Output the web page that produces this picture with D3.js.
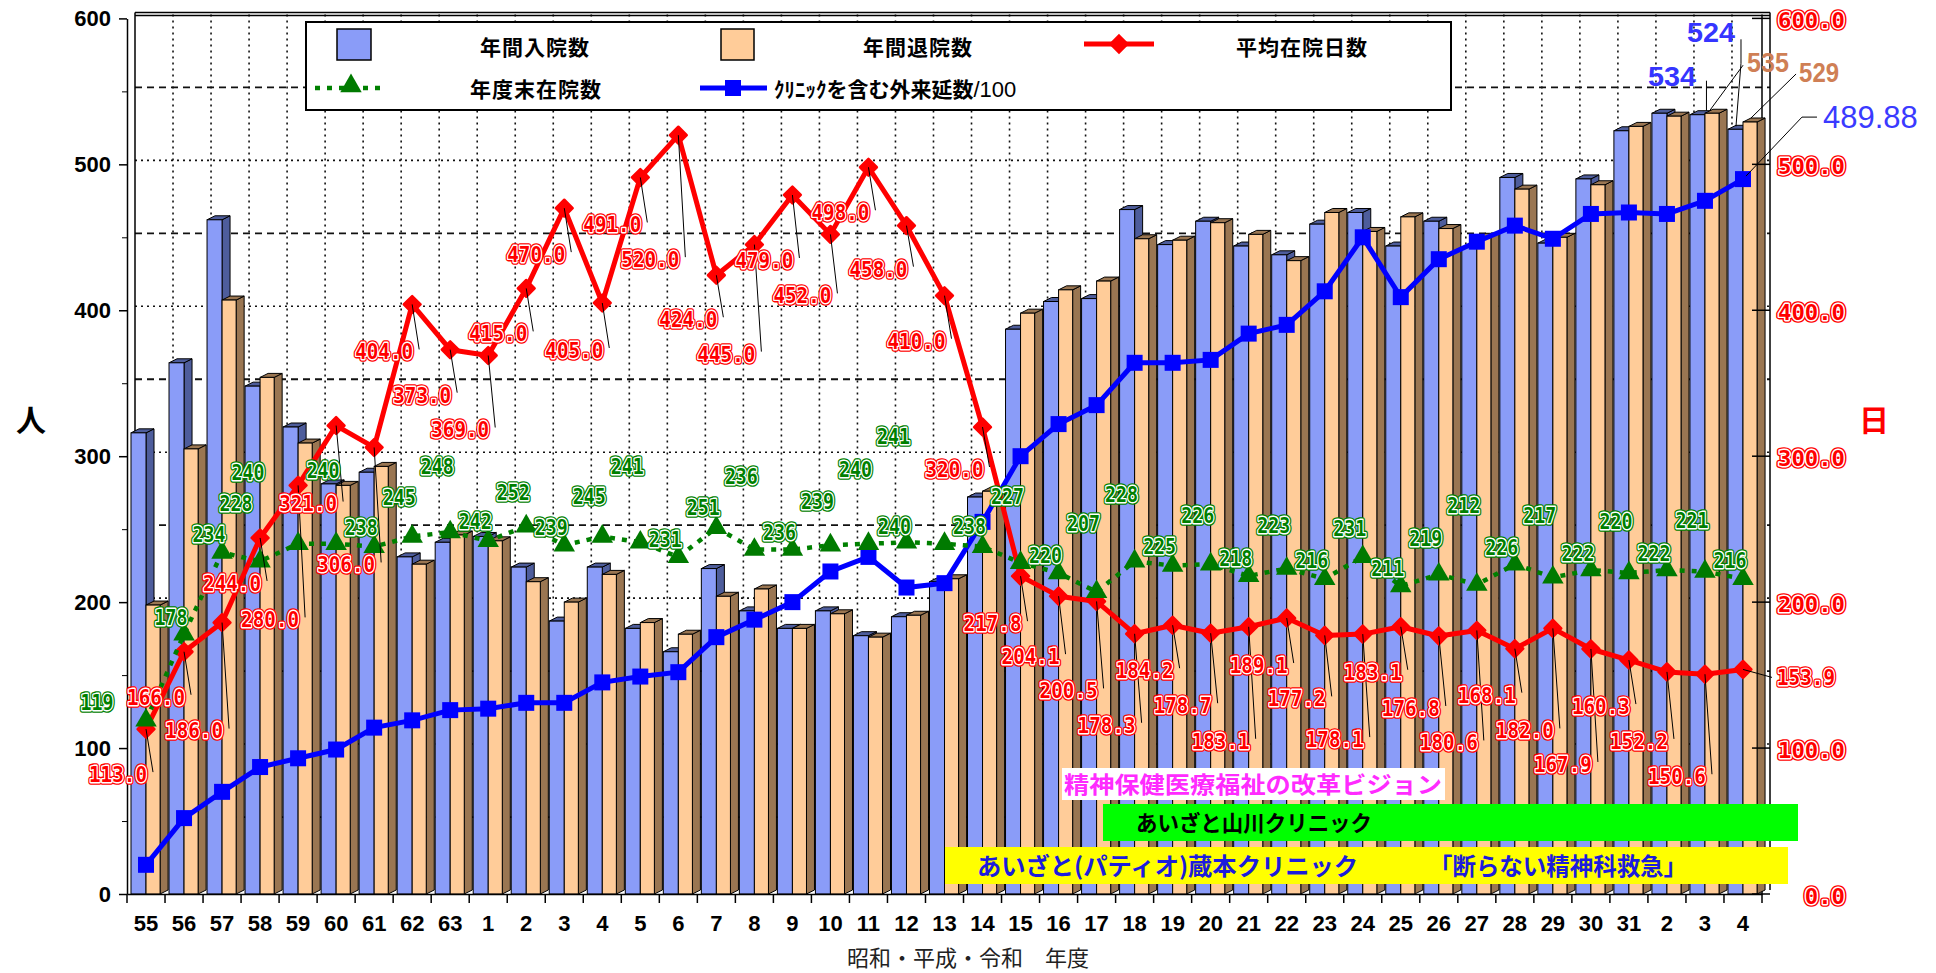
<!DOCTYPE html>
<html lang="ja">
<head>
<meta charset="utf-8">
<title>年間入院数・退院数・平均在院日数の推移</title>
<script src="https://cdn.jsdelivr.net/npm/d3@7"></script>
<style>
  html, body { margin: 0; padding: 0; background: #fff; }
  svg { display: block; }
</style>
</head>
<body>
<script>
// 年度（昭和55年度〜令和4年度）
const years = ["S55","S56","S57","S58","S59","S60","S61","S62","S63",
  "H1","H2","H3","H4","H5","H6","H7","H8","H9","H10",
  "H11","H12","H13","H14","H15","H16","H17","H18","H19","H20",
  "H21","H22","H23","H24","H25","H26","H27","H28","H29","H30",
  "H31","R2","R3","R4"];
const yearLabels = ["55","56","57","58","59","60","61","62","63",
  "1","2","3","4","5","6","7","8","9","10",
  "11","12","13","14","15","16","17","18","19","20",
  "21","22","23","24","25","26","27","28","29","30",
  "31","2","3","4"];

// 年間入院数
const admissions = [316,364,462,348,320,281,289,231,241,
  245,224,187,224,182,166,223,194,182,194,
  177,190,214,272,387,406,408,469,445,461,
  444,438,459,467,444,461,443,491,446,490,
  523,535,534,524];
// 年間退院数
const discharges = [198,305,407,354,309,280,293,226,246,
  242,214,200,219,186,178,204,209,182,192,
  176,191,216,276,398,414,420,449,448,460,
  452,434,467,454,464,456,450,483,450,486,
  526,533,535,529];
// 平均在院日数（右軸）
const avgStay = [113.0,166.0,186.0,244.0,280.0,321.0,306.0,404.0,373.0,
  369.0,415.0,470.0,405.0,491.0,520.0,424.0,445.0,479.0,452.0,
  498.0,458.0,410.0,320.0,217.8,204.1,200.5,178.3,184.2,178.7,
  183.1,189.1,177.2,178.1,183.1,176.8,180.6,168.1,182.0,167.9,
  160.3,152.2,150.6,153.9];
// 年度末在院数
const inpatientsEnd = [119,178,234,228,240,240,238,245,248,
  242,252,239,245,241,231,251,236,236,239,
  240,241,240,238,227,220,207,228,225,226,
  218,223,216,231,211,219,212,226,217,222,
  220,222,221,216];
// クリニックを含む外来延数/100
const outpatients = [20,52,70,87,93,99,114,119,126,
  127,131,131,145,149,152,176,188,200,221,
  231,210,213,255,300,322,335,364,364,366,
  384,390,413,450,409,435,447,458,449,466,
  467,466,475,489.88];

const leftTicks = [0,100,200,300,400,500,600];
const rightTicks = [0,100,200,300,400,500,600];

// ラベルの配置（点からのずれ、px）
const redLabelDy = [45,45,108,45,134,78,117,47,45,
  74,45,46,47,47,124,44,109,65,61,
  45,43,45,42,47,60,89,91,45,72,
  114,47,63,105,45,72,112,46,102,115,
  46,69,102,8];
const greenLabelDy = [-18,-17,-18,-58,-71,-73,-19,-39,-66,
  -19,-34,-18,-40,-76,-17,-20,-73,-17,-44,
  -74,-106,-17,-20,-66,-18,-68,-67,-19,-49,
  -17,-43,-18,-28,-18,-36,-79,-17,-62,-17,
  -52,-17,-51,-18];
const greenLabelDx = {0: -49, 3: -24, 4: -50, 21: -50};

const W = 1936, H = 973;
const plot = {left: 127, right: 1762, top: 18.4, bottom: 894};
const depth = {x: 8, y: 4};
const monoFont = "'DejaVu Sans Mono', monospace";
const sansFont = "'Liberation Sans', Arial, sans-serif";
const jpFont = "'Noto Sans CJK JP', 'Noto Sans', sans-serif";

const svg = d3.select("body").append("svg")
    .attr("width", W)
    .attr("height", H);

// スケール
const x = d3.scaleBand().domain(years).range([plot.left, plot.right]);
const yL = d3.scaleLinear().domain([0, 600]).range([plot.bottom, plot.top]);
const yR = d3.scaleLinear().domain([0, 600]).range([plot.bottom, plot.top]);
const bw = x.bandwidth();
const cx = i => x(years[i]) + bw / 2;

// 奥の壁のグリッド線
const wall = svg.append("g").attr("stroke", "#111").attr("fill", "none");
d3.range(50, 600, 50).forEach(v => {
    wall.append("line")
        .attr("x1", plot.left + depth.x).attr("x2", plot.right + depth.x)
        .attr("y1", yL(v) - depth.y).attr("y2", yL(v) - depth.y)
        .attr("stroke-width", v % 100 === 0 ? 1.6 : 1.8)
        .attr("stroke-dasharray", v % 100 === 0 ? "2,4" : "7,5");
});
years.slice(1).forEach(yr => {
    wall.append("line")
        .attr("x1", x(yr) + depth.x).attr("x2", x(yr) + depth.x)
        .attr("y1", plot.top - depth.y).attr("y2", plot.bottom - depth.y)
        .attr("stroke-width", 1.6)
        .attr("stroke-dasharray", "2,4");
});

// 枠
const frame = svg.append("g").attr("stroke", "#000").attr("stroke-width", 1.5);
frame.append("line").attr("x1", plot.left + depth.x).attr("x2", plot.right + depth.x)
    .attr("y1", plot.top - depth.y - 2).attr("y2", plot.top - depth.y - 2);
frame.append("line").attr("x1", plot.left + depth.x).attr("x2", plot.right + depth.x)
    .attr("y1", plot.top - depth.y + 1).attr("y2", plot.top - depth.y + 1);
frame.append("line").attr("x1", plot.left + depth.x).attr("x2", plot.left + depth.x)
    .attr("y1", plot.top - depth.y - 2).attr("y2", plot.bottom - depth.y);
frame.append("line").attr("x1", plot.right).attr("x2", plot.right)
    .attr("y1", plot.top - depth.y).attr("y2", plot.bottom);
frame.append("line").attr("x1", plot.right + depth.x).attr("x2", plot.right + depth.x)
    .attr("y1", plot.top - depth.y - 2).attr("y2", plot.bottom - depth.y);

// 3D風の棒
const barSpec = [
    {values: admissions, off: 0.105, w: 0.395, front: "#8a9cf8", shade: "#4e5d9c"},
    {values: discharges, off: 0.5, w: 0.37, front: "#ffcc99", shade: "#9a7652"}
];
const barTop = (s, i) => {
    const x0 = x(years[i]) + barSpec[s].off * bw;
    return {x0: x0, x1: x0 + barSpec[s].w * bw, y: yL(barSpec[s].values[i])};
};
const bars = svg.append("g").attr("stroke", "#000").attr("stroke-width", 1);
bars.selectAll("g")
    .data(years)
    .join("g")
    .each(function(yr, i) {
        const g = d3.select(this);
        barSpec.forEach((s, k) => {
            const t = barTop(k, i), y0 = yL(0), dx = depth.x, dy = depth.y;
            g.append("polygon")
                .attr("points", [[t.x1, y0], [t.x1 + dx, y0 - dy], [t.x1 + dx, t.y - dy], [t.x1, t.y]].join(" "))
                .attr("fill", s.shade);
            g.append("polygon")
                .attr("points", [[t.x0, t.y], [t.x0 + dx, t.y - dy], [t.x1 + dx, t.y - dy], [t.x1, t.y]].join(" "))
                .attr("fill", s.shade);
            g.append("rect")
                .attr("x", t.x0).attr("y", t.y)
                .attr("width", t.x1 - t.x0).attr("height", y0 - t.y)
                .attr("fill", s.front);
        });
    });

// 左軸
svg.append("g")
    .attr("transform", `translate(${plot.left},0)`)
    .call(d3.axisLeft(yL).tickValues(leftTicks).tickSize(8).tickSizeOuter(0).tickPadding(8))
    .call(g => g.select(".domain").attr("stroke-width", 1.5))
    .call(g => g.selectAll(".tick line").attr("stroke-width", 1.5))
    .call(g => g.selectAll("text")
        .attr("font-family", sansFont).attr("font-size", 22)
        .attr("font-weight", "bold").attr("fill", "#000"));
svg.append("g")
    .attr("transform", `translate(${plot.left},0)`)
    .call(d3.axisLeft(yL).tickValues(d3.range(50, 600, 100)).tickSize(5).tickFormat(""))
    .call(g => g.select(".domain").remove());

// 右軸
const rAxis = svg.append("g");
rightTicks.forEach(v => {
    rAxis.append("line")
        .attr("x1", plot.right - 10).attr("x2", plot.right + depth.x)
        .attr("y1", yR(v)).attr("y2", yR(v))
        .attr("stroke", "#000").attr("stroke-width", 1.5);
});

// X軸
const xAxis = svg.append("g")
    .attr("transform", `translate(0,${plot.bottom})`)
    .call(d3.axisBottom(x).tickSize(0).tickSizeOuter(0).tickPadding(21)
        .tickFormat((d, i) => yearLabels[i]))
    .call(g => g.select(".domain").attr("stroke-width", 1.5))
    .call(g => g.selectAll("text")
        .attr("font-family", sansFont).attr("font-size", 22)
        .attr("font-weight", "bold").attr("fill", "#000"));
years.concat([null]).forEach(yr => {
    const xx = yr ? x(yr) : plot.right;
    xAxis.append("line").attr("x1", xx).attr("x2", xx).attr("y1", 0).attr("y2", 9)
        .attr("stroke", "#000").attr("stroke-width", 1.5);
});

// 縁取り文字
function outlinedText(g, tx, ty, txt, color, size, len, anchor) {
    const base = ty + size * 0.36;
    [[color, 5.5], ["#fff", 2.8], [null, 0]].forEach(([stroke, sw]) => {
        const t = g.append("text")
            .attr("x", tx).attr("y", base)
            .attr("text-anchor", anchor)
            .attr("font-family", monoFont)
            .attr("font-weight", "bold")
            .attr("font-size", size)
            .attr("textLength", len)
            .attr("lengthAdjust", "spacingAndGlyphs")
            .attr("fill", stroke ? "none" : color)
            .text(txt);
        if (stroke) t.attr("stroke", stroke).attr("stroke-width", sw).attr("stroke-linejoin", "round");
    });
}

// 右軸ラベル
const rLabels = svg.append("g");
rightTicks.forEach(v => {
    const txt = v.toFixed(1);
    outlinedText(rLabels, 1845, yR(v) + 2, txt, "#ff0000", 21, txt.length * 13.4, "end");
});

// 軸タイトル
svg.append("text").attr("x", 31).attr("y", 431).attr("text-anchor", "middle")
    .attr("font-family", jpFont).attr("font-weight", "bold").attr("font-size", 30)
    .text("人");
svg.append("text").attr("x", 1874).attr("y", 431).attr("text-anchor", "middle")
    .attr("font-family", jpFont).attr("font-weight", "bold").attr("font-size", 30)
    .attr("fill", "#ff0000").text("日");
svg.append("text").attr("x", 968).attr("y", 966).attr("text-anchor", "middle")
    .attr("font-family", jpFont).attr("font-size", 22).attr("fill", "#222")
    .text("昭和・平成・令和　年度");

// 折れ線
const redLine = d3.line().x((d, i) => cx(i)).y(d => yR(d));
const leftLine = d3.line().x((d, i) => cx(i)).y(d => yL(d));

svg.append("path").datum(avgStay)
    .attr("d", redLine).attr("fill", "none")
    .attr("stroke", "#ff0000").attr("stroke-width", 5).attr("stroke-linejoin", "round");
svg.append("g").selectAll("path")
    .data(avgStay)
    .join("path")
    .attr("d", d3.symbol().type(d3.symbolDiamond2).size(180))
    .attr("transform", (d, i) => `translate(${cx(i)},${yR(d)})`)
    .attr("fill", "#ff0000").attr("stroke", "#ff0000").attr("stroke-width", 2.5)
    .attr("stroke-linejoin", "round");

svg.append("path").datum(outpatients)
    .attr("d", leftLine).attr("fill", "none")
    .attr("stroke", "#0000ff").attr("stroke-width", 5);
svg.append("g").selectAll("rect")
    .data(outpatients)
    .join("rect")
    .attr("x", (d, i) => cx(i) - 8).attr("y", d => yL(d) - 8)
    .attr("width", 16).attr("height", 16)
    .attr("fill", "#0000ff");

svg.append("path").datum(inpatientsEnd)
    .attr("d", leftLine).attr("fill", "none")
    .attr("stroke", "#008000").attr("stroke-width", 4.5).attr("stroke-dasharray", "5,7");
svg.append("g").selectAll("path")
    .data(inpatientsEnd)
    .join("path")
    .attr("d", d3.symbol().type(d3.symbolTriangle).size(200))
    .attr("transform", (d, i) => `translate(${cx(i)},${yL(d)})`)
    .attr("fill", "#007a00");

// 平均在院日数のラベル
const redLabels = svg.append("g");
avgStay.forEach((v, i) => {
    const mx = cx(i), my = yR(v), dy = redLabelDy[i];
    const last = i === avgStay.length - 1;
    if (last) {
        redLabels.append("line").attr("x1", mx).attr("y1", my).attr("x2", 1772).attr("y2", my + dy)
            .attr("stroke", "#000").attr("stroke-width", 1);
        outlinedText(redLabels, 1777, my + dy, v.toFixed(1), "#ff0000", 22, 58, "start");
    } else {
        redLabels.append("line").attr("x1", mx).attr("y1", my).attr("x2", mx + 7).attr("y2", my + dy - 2)
            .attr("stroke", "#000").attr("stroke-width", 1);
        outlinedText(redLabels, mx + 1, my + dy, v.toFixed(1), "#ff0000", 22, 58, "end");
    }
});

// 年度末在院数のラベル
const greenLabels = svg.append("g");
inpatientsEnd.forEach((v, i) => {
    const dx = greenLabelDx[i] !== undefined ? greenLabelDx[i] : -13;
    outlinedText(greenLabels, cx(i) + dx, yL(v) + greenLabelDy[i], String(v), "#008000", 21, 33, "middle");
});

// 令和3・4年度の棒ラベル
const endLabels = svg.append("g");
function leader(points) {
    endLabels.append("polyline").attr("points", points.join(" "))
        .attr("fill", "none").attr("stroke", "#000").attr("stroke-width", 1);
}
function endText(tx, ty, txt, color, anchor, len) {
    endLabels.append("text").attr("x", tx).attr("y", ty + 10)
        .attr("text-anchor", anchor)
        .attr("font-family", sansFont).attr("font-weight", "bold").attr("font-size", 27)
        .attr("textLength", len).attr("lengthAdjust", "spacingAndGlyphs")
        .attr("fill", color).text(txt);
}
let t = barTop(0, 41);
leader([[t.x1 + 1.5, t.y - 4], [t.x1 + 1.5, t.y - 34]]);
endText(t.x0 + 6, t.y - 39, admissions[41], "#3535ff", "end", 48);
t = barTop(0, 42);
leader([[t.x1 - 7, t.y - 3], [t.x1 - 2, t.y - 66], [t.x1 - 2, t.y - 90]]);
endText(t.x1 - 8, t.y - 97, admissions[42], "#3535ff", "end", 48);
t = barTop(1, 41);
leader([[t.x0 + 5, t.y - 3], [t.x1 + 24, t.y - 48]]);
endText(t.x1 + 28, t.y - 51, discharges[41], "#cf7f55", "start", 42);
t = barTop(1, 42);
leader([[t.x0 + 8, t.y - 4], [t.x1 + 39, t.y - 48]]);
endText(t.x1 + 42, t.y - 50, discharges[42], "#cf7f55", "start", 40);
{
    const mx = cx(42), my = yL(outpatients[42]);
    leader([[mx + 3, my - 3], [mx + 59, my - 62], [mx + 74, my - 62]]);
    endLabels.append("text").attr("x", mx + 80).attr("y", my - 62 + 11)
        .attr("font-family", sansFont).attr("font-size", 31).attr("fill", "#3a3aff")
        .text(outpatients[42].toFixed(2));
}

// 注記（下部の帯）
const notes = svg.append("g").attr("font-family", jpFont).attr("font-weight", "bold");
notes.append("rect").attr("x", 1062).attr("y", 768).attr("width", 383).attr("height", 32).attr("fill", "#fff");
notes.append("text").attr("x", 1064).attr("y", 793).attr("font-size", 23)
    .attr("textLength", 378).attr("lengthAdjust", "spacingAndGlyphs")
    .attr("fill", "#ff2bff").text("精神保健医療福祉の改革ビジョン");
notes.append("rect").attr("x", 1103).attr("y", 804).attr("width", 695).attr("height", 37).attr("fill", "#00ff00");
notes.append("text").attr("x", 1136).attr("y", 831).attr("font-size", 22)
    .attr("textLength", 236).attr("lengthAdjust", "spacingAndGlyphs")
    .attr("fill", "#000").text("あいざと山川クリニック");
notes.append("rect").attr("x", 945).attr("y", 847).attr("width", 843).attr("height", 37).attr("fill", "#ffff00");
notes.append("text").attr("x", 977).attr("y", 875).attr("font-size", 24)
    .attr("textLength", 381).attr("lengthAdjust", "spacingAndGlyphs")
    .attr("fill", "#1c1cdc").text("あいざと(パティオ)蔵本クリニック");
notes.append("text").attr("x", 1429).attr("y", 875).attr("font-size", 24)
    .attr("textLength", 258).attr("lengthAdjust", "spacingAndGlyphs")
    .attr("fill", "#1c1cdc").text("「断らない精神科救急」");

// 凡例
const legend = svg.append("g").attr("font-family", jpFont).attr("font-weight", "bold").attr("font-size", 21);
legend.append("rect").attr("x", 306).attr("y", 22).attr("width", 1145).attr("height", 88)
    .attr("fill", "#fff").attr("stroke", "#000").attr("stroke-width", 2);
legend.append("rect").attr("x", 337).attr("y", 29).attr("width", 34).attr("height", 31)
    .attr("fill", barSpec[0].front).attr("stroke", "#000").attr("stroke-width", 1.5);
legend.append("text").attr("x", 535).attr("y", 55).attr("text-anchor", "middle")
    .attr("letter-spacing", 1).text("年間入院数");
legend.append("rect").attr("x", 721).attr("y", 29).attr("width", 33).attr("height", 31)
    .attr("fill", barSpec[1].front).attr("stroke", "#000").attr("stroke-width", 1.5);
legend.append("text").attr("x", 918).attr("y", 55).attr("text-anchor", "middle")
    .attr("letter-spacing", 1).text("年間退院数");
legend.append("line").attr("x1", 1084).attr("x2", 1154).attr("y1", 44).attr("y2", 44)
    .attr("stroke", "#ff0000").attr("stroke-width", 5);
legend.append("path").attr("d", d3.symbol().type(d3.symbolDiamond2).size(180))
    .attr("transform", "translate(1119,44)").attr("fill", "#ff0000")
    .attr("stroke", "#ff0000").attr("stroke-width", 2.5);
legend.append("text").attr("x", 1302).attr("y", 55).attr("text-anchor", "middle")
    .attr("letter-spacing", 1).text("平均在院日数");
legend.append("line").attr("x1", 315).attr("x2", 387).attr("y1", 88).attr("y2", 88)
    .attr("stroke", "#008000").attr("stroke-width", 4.5).attr("stroke-dasharray", "5,7");
legend.append("path").attr("d", d3.symbol().type(d3.symbolTriangle).size(200))
    .attr("transform", "translate(351,86)").attr("fill", "#007a00");
legend.append("text").attr("x", 536).attr("y", 97).attr("text-anchor", "middle")
    .attr("letter-spacing", 1).text("年度末在院数");
legend.append("line").attr("x1", 700).attr("x2", 767).attr("y1", 88).attr("y2", 88)
    .attr("stroke", "#0000ff").attr("stroke-width", 5);
legend.append("rect").attr("x", 725).attr("y", 80).attr("width", 16).attr("height", 16).attr("fill", "#0000ff");
const lt = legend.append("text").attr("x", 774).attr("y", 97);
lt.append("tspan").text("ｸﾘﾆｯｸを含む外来延数");
lt.append("tspan").attr("font-family", sansFont).attr("font-weight", "normal").attr("font-size", 22).text("/100");
</script>
</body>
</html>
